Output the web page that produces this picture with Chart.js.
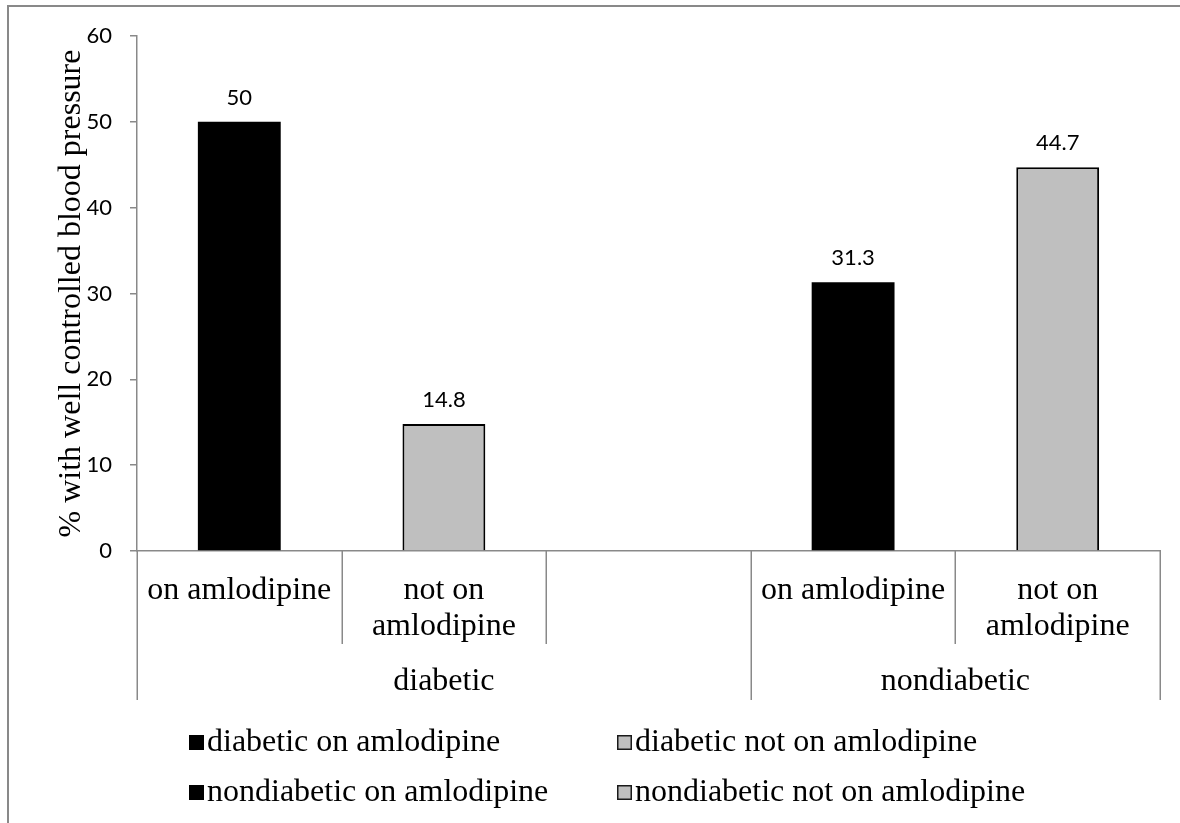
<!DOCTYPE html>
<html>
<head>
<meta charset="utf-8">
<script src="https://cdn.jsdelivr.net/npm/chart.js@4/dist/chart.umd.min.js"></script>
<style>
  html, body { margin: 0; padding: 0; background: #ffffff; }
  #wrap { width: 1180px; height: 823px; position: relative; }
</style>
</head>
<body>
<div id="wrap"><canvas id="chart" width="1180" height="823"></canvas></div>
<script>
// Category axis: inner level (wrapped lines) and outer grouping
const categoryLabels = [['on amlodipine'], ['not on', 'amlodipine'], [''], ['on amlodipine'], ['not on', 'amlodipine']];
const groupLabels = ['diabetic', 'nondiabetic'];
const groupSpans = [3, 2];

// Series
const seriesNames = ['diabetic on amlodipine', 'diabetic not on amlodipine', 'nondiabetic on amlodipine', 'nondiabetic not on amlodipine'];
const diabeticOn = [50, null, null, null, null];
const diabeticNotOn = [null, 14.8, null, null, null];
const nondiabeticOn = [null, null, null, 31.3, null];
const nondiabeticNotOn = [null, null, null, null, 44.7];

// Value axis
const yMin = 0;
const yMax = 60;
const yStep = 10;
const yTitle = '% with well controlled blood pressure';

const AXIS_GREY = '#898989';
const SERIF = '"Liberation Serif", "Times New Roman", serif';
const SANS = 'Lato, "Open Sans", sans-serif';
const BLACK_FILL = '#000000';
const GREY_FILL = '#bfbfbf';
const SERIF_SIZE = 32;
const SANS_SIZE = 22;

// white page with the outer frame (top and left edges)
const framePlugin = {
  id: 'frame',
  beforeDraw(chart) {
    const ctx = chart.ctx;
    ctx.save();
    ctx.fillStyle = '#ffffff';
    ctx.fillRect(0, 0, chart.width, chart.height);
    ctx.strokeStyle = AXIS_GREY;
    ctx.lineWidth = 2;
    ctx.beginPath();
    ctx.moveTo(8, chart.height);
    ctx.lineTo(8, 6);
    ctx.lineTo(chart.width, 6);
    ctx.stroke();
    ctx.restore();
  }
};

// value labels above each bar
const valueLabelPlugin = {
  id: 'valueLabels',
  afterDatasetsDraw(chart) {
    const ctx = chart.ctx;
    ctx.save();
    ctx.font = SANS_SIZE + 'px ' + SANS;
    ctx.fillStyle = '#000000';
    ctx.textAlign = 'center';
    ctx.textBaseline = 'alphabetic';
    chart.data.datasets.forEach((ds, di) => {
      const meta = chart.getDatasetMeta(di);
      ds.data.forEach((v, i) => {
        if (v === null || v === undefined) return;
        const el = meta.data[i];
        ctx.fillText(String(v), el.x, el.y - 17);
      });
    });
    ctx.restore();
  }
};

// two-level category axis with separators, y title and legend
const annotationPlugin = {
  id: 'annotations',
  afterDraw(chart) {
    const ctx = chart.ctx;
    const area = chart.chartArea;
    const xs = chart.scales.x;
    const n = categoryLabels.length;
    const centers = categoryLabels.map((_, i) => xs.getPixelForValue(i));
    const edges = [area.left];
    for (let i = 1; i < n; i++) edges.push((centers[i - 1] + centers[i]) / 2);
    edges.push(area.right);

    const groupEdgeIdx = [0];
    groupSpans.forEach(s => groupEdgeIdx.push(groupEdgeIdx[groupEdgeIdx.length - 1] + s));

    ctx.save();
    ctx.strokeStyle = AXIS_GREY;
    ctx.lineWidth = 1.5;
    edges.forEach((ex, i) => {
      const isGroupEdge = groupEdgeIdx.includes(i);
      const bottom = isGroupEdge ? 700 : 644;
      const px = Math.round(ex) + 0.25;
      ctx.beginPath();
      ctx.moveTo(px, area.bottom);
      ctx.lineTo(px, bottom);
      ctx.stroke();
    });

    ctx.fillStyle = '#000000';
    ctx.font = SERIF_SIZE + 'px ' + SERIF;
    ctx.textAlign = 'center';
    ctx.textBaseline = 'alphabetic';
    categoryLabels.forEach((lines, i) => {
      lines.forEach((line, j) => {
        ctx.fillText(line, centers[i], 599 + j * 36);
      });
    });
    groupLabels.forEach((g, k) => {
      const cx = (edges[groupEdgeIdx[k]] + edges[groupEdgeIdx[k + 1]]) / 2;
      ctx.fillText(g, cx, 690);
    });

    // y axis title
    ctx.save();
    ctx.translate(80, (area.top + area.bottom) / 2);
    ctx.rotate(-Math.PI / 2);
    ctx.textAlign = 'center';
    ctx.fillText(yTitle, 0, 0);
    ctx.restore();

    // legend, two columns by two rows
    const colX = [189, 617];
    const rowBase = [751, 801];
    const box = 15;
    ctx.textAlign = 'left';
    chart.data.datasets.forEach((ds, di) => {
      const col = di % 2;
      const row = Math.floor(di / 2);
      const bx = colX[col];
      const by = rowBase[row] - box - 1;
      ctx.fillStyle = ds.backgroundColor;
      ctx.fillRect(bx, by, box, box);
      if (ds.borderWidth > 0) {
        ctx.strokeStyle = '#1a1a1a';
        ctx.lineWidth = 1.5;
        ctx.strokeRect(bx + 0.75, by + 0.75, box - 1.5, box - 1.5);
      }
      ctx.fillStyle = '#000000';
      ctx.fillText(ds.label, bx + box + 3, rowBase[row]);
    });
    ctx.restore();
  }
};

const seriesData = [diabeticOn, diabeticNotOn, nondiabeticOn, nondiabeticNotOn];
const seriesFill = [BLACK_FILL, GREY_FILL, BLACK_FILL, GREY_FILL];
const seriesBorder = [0, 2, 0, 2];

new Chart(document.getElementById('chart'), {
  type: 'bar',
  data: {
    labels: categoryLabels,
    datasets: seriesNames.map((name, i) => ({
      label: name,
      data: seriesData[i],
      backgroundColor: seriesFill[i],
      borderColor: '#000000',
      borderWidth: seriesBorder[i],
      barPercentage: 0.405,
      categoryPercentage: 1.0
    }))
  },
  options: {
    responsive: false,
    animation: false,
    devicePixelRatio: 1,
    layout: { padding: { top: 36, right: 20, left: 0, bottom: 0 } },
    plugins: {
      legend: { display: false },
      tooltip: { enabled: false },
      title: { display: false }
    },
    scales: {
      x: {
        stacked: true,
        grid: { display: false },
        border: { display: true, color: AXIS_GREY, width: 1.5 },
        ticks: { display: false },
        afterFit(scale) { scale.height = 272; }
      },
      y: {
        min: yMin,
        max: yMax,
        ticks: {
          stepSize: yStep,
          color: '#000000',
          font: { family: SANS, size: SANS_SIZE },
          padding: 18
        },
        grid: {
          display: true,
          drawOnChartArea: false,
          drawTicks: true,
          tickLength: 7,
          color: AXIS_GREY,
          lineWidth: 1.5
        },
        border: { display: true, color: AXIS_GREY, width: 1.5 },
        afterFit(scale) { scale.width = 137; }
      }
    }
  },
  plugins: [framePlugin, valueLabelPlugin, annotationPlugin]
});
</script>
</body>
</html>
